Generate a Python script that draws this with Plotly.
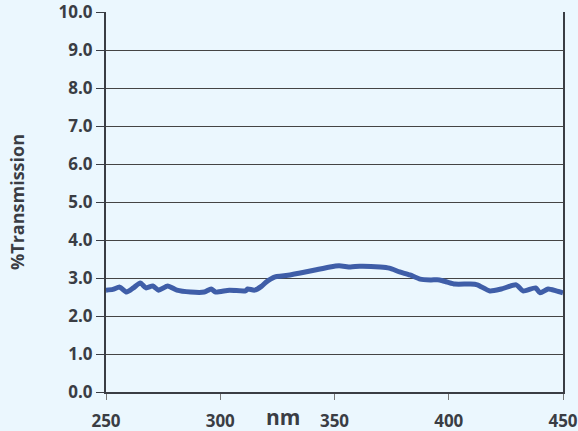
import plotly.graph_objects as go

wavelength = [250, 253, 256, 259, 262, 265, 267.5, 270.5, 273, 277, 281, 287, 293, 296, 298,
              304, 311, 312, 315, 318, 320, 322, 324, 327, 330.5, 335, 341.5, 348, 352, 357, 361, 370, 374,
              378.5, 383, 387.5, 392, 396, 399.5, 402.7, 409.5, 412.5, 418, 423, 429.5, 432.5,
              438, 440, 443.5, 447, 450]
transmission = [2.68, 2.70, 2.76, 2.63, 2.74, 2.87, 2.74, 2.79, 2.68, 2.79, 2.68, 2.63, 2.63, 2.71, 2.63,
                2.68, 2.66, 2.71, 2.68, 2.78, 2.89, 2.97, 3.03, 3.05, 3.08, 3.13, 3.21, 3.29, 3.32, 3.29, 3.31, 3.29, 3.26,
                3.16, 3.08, 2.97, 2.95, 2.95, 2.89, 2.84, 2.84, 2.82, 2.66, 2.71, 2.82, 2.66,
                2.74, 2.61, 2.71, 2.66, 2.61]
x_ticks = [250, 300, 350, 400, 450]
y_ticks = [0, 1, 2, 3, 4, 5, 6, 7, 8, 9, 10]

bg = "#EBF7FE"
dark = "#3a3d44"
font = "Open Sans"

fig = go.Figure()
fig.add_trace(go.Scatter(x=wavelength, y=transmission, mode="lines",
                         line=dict(color="#3F5EA8", width=5, shape="spline", smoothing=0.6),
                         hoverinfo="skip"))

fig.update_layout(
    width=578, height=431,
    margin=dict(l=106, r=15, t=12, b=39, autoexpand=False),
    paper_bgcolor=bg, plot_bgcolor=bg,
    showlegend=False,
    font=dict(family=font, color=dark),
)
fig.update_xaxes(
    range=[250, 450], tickvals=x_ticks, ticktext=[str(v) for v in x_ticks],
    showgrid=False, zeroline=False, automargin=False,
    showline=True, linecolor=dark, linewidth=2,
    ticks="outside", ticklen=6, tickwidth=1, tickcolor="#777",
    tickfont=dict(family=font, size=17, color=dark, weight="bold"),
    ticklabelstandoff=7, ticklabeloverflow="allow",
)
fig.update_yaxes(
    range=[0, 10], tickvals=y_ticks, ticktext=[f"{v:.1f}" for v in y_ticks],
    showgrid=True, gridcolor="#444", gridwidth=1, zeroline=False, automargin=False,
    showline=True, linecolor=dark, linewidth=2, mirror=True,
    ticks="outside", ticklen=8, tickwidth=1, tickcolor=dark,
    tickfont=dict(family=font, size=17, color=dark, weight="bold"),
    ticklabeloverflow="allow",
)
fig.add_annotation(text="%Transmission", xref="paper", yref="paper", x=0, y=0.5,
                   xshift=-89, showarrow=False, textangle=-90,
                   xanchor="center", yanchor="middle",
                   font=dict(family=font, size=18, color=dark, weight="bold"))
fig.add_annotation(text="nm", xref="paper", yref="paper", x=(283 - 106) / 457, y=0,
                   yshift=-25, showarrow=False, xanchor="center", yanchor="middle",
                   height=20, valign="middle", borderpad=0,
                   font=dict(family=font, size=21, color=dark, weight="bold"))

fig.write_html("out.html", config={"displayModeBar": False},
               post_script="document.body.style.margin='0';")
